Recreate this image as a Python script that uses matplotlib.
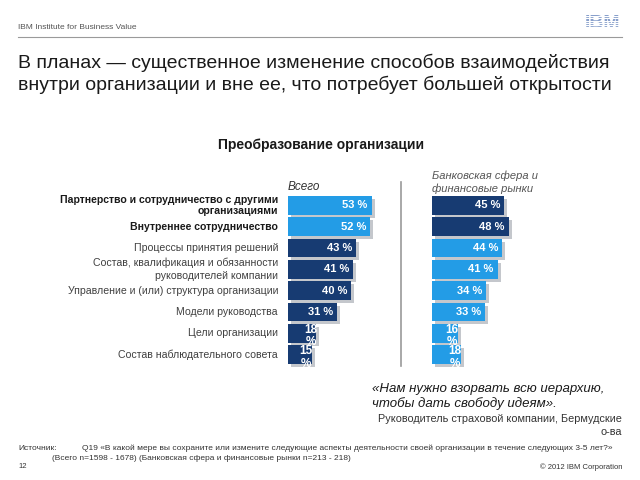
import numpy as np
import matplotlib
matplotlib.use("Agg")
import matplotlib.pyplot as plt

plt.rcParams['font.family'] = ['Liberation Sans', 'DejaVu Sans']

# data
categories = ["Партнерство и сотрудничество с другими\nорганизациями",
              "Внутреннее сотрудничество",
              "Процессы принятия решений",
              "Состав, квалификация и обязанности\nруководителей компании",
              "Управление и (или) структура организации",
              "Модели руководства",
              "Цели организации",
              "Состав наблюдательного совета"]
bold_rows = [0, 1]
total_vals = [53, 52, 43, 41, 40, 31, 18, 15]
bank_vals = [45, 48, 44, 41, 34, 33, 16, 18]
highlight = [True, True, False, False, False, False, False, False]

LIGHT = "#239CE6"
DARK = "#173B72"
SHADOW = "#C4C7CC"

W, H = 640, 480
fig = plt.figure(figsize=(6.4, 4.8), dpi=100)

def fx(px):
    return px / W

def fy(py):
    return 1 - py / H

def txt(x, y, s, **kw):
    fig.text(fx(x), fy(y), s, **kw)

# header
txt(18, 29, "IBM Institute for Business Value", fontsize=6, color="#555555", va="baseline")
fig.add_artist(plt.Line2D([fx(18), fx(622)], [fy(37), fy(37)], color="#9A9A9A", lw=0.8))
txt(602, 24, "IBM", fontsize=14, fontweight="bold", color="#7892C4", ha="center", va="center")
for k in range(8):
    yy = 16.2 + k * 2.2
    fig.add_artist(plt.Line2D([fx(580), fx(624)], [fy(yy), fy(yy)], color="white",
                              lw=0.9, zorder=10))

# title
txt(18, 68, "В планах — существенное изменение способов взаимодействия",
    fontsize=14, color="#1A1A1A", va="baseline")
txt(18, 90, "внутри организации и вне ее, что потребует большей открытости",
    fontsize=14, color="#1A1A1A", va="baseline")

txt(321, 145, "Преобразование организации", fontsize=10, fontweight="bold",
    color="#1A1A1A", ha="center", va="center")

# bar panels
top, bottom = 194.5, 365.5
n = len(categories)
rows = np.arange(n)
pitch = (bottom - top) / n


def panel(x0, vals, colors, px_per):
    width_px = 110
    ax = fig.add_axes([fx(x0), fy(bottom), fx(width_px), (bottom - top) / H])
    ax.set_xlim(0, width_px / px_per)
    ax.set_ylim(n - 0.5, -0.5)
    ax.axis("off")
    dx = 3 / px_per
    dy = 3 / pitch
    ax.barh(rows + dy, vals, left=dx, height=0.88, color=SHADOW, zorder=1, clip_on=False)
    ax.barh(rows, vals, height=0.88, color=colors, zorder=2, clip_on=False)
    for r, v in zip(rows, vals):
        if v < 20:
            ax.text(v - 6 / px_per, r + 0.12, f"{v}\n%", color="white", fontsize=8.5,
                    fontweight="bold", ha="center", va="center", multialignment="center",
                    linespacing=1.05, zorder=3, clip_on=False)
        else:
            ax.text(v - 4 / px_per, r, f"{v} %", color="white", fontsize=8,
                    fontweight="bold", ha="right", va="center", zorder=3)
    return ax


panel(288, total_vals, [LIGHT if h else DARK for h in highlight], 1.58)
panel(432, bank_vals, [DARK if h else LIGHT for h in highlight], 1.6)

# category labels
for r, c in zip(rows, categories):
    yc = top + (r + 0.5) * pitch
    txt(278, yc, c, fontsize=7.6, ha="right", va="center", multialignment="right",
        color="#1A1A1A" if r in bold_rows else "#404040",
        fontweight="bold" if r in bold_rows else "normal",
        linespacing=1.15 if r in bold_rows else 1.4)

txt(288, 187, "Всего", fontsize=8.5, style="italic", color="#333333", va="center")
txt(432, 176, "Банковская сфера и", fontsize=8, style="italic", color="#555555", va="center")
txt(432, 189, "финансовые рынки", fontsize=8, style="italic", color="#555555", va="center")

fig.add_artist(plt.Line2D([fx(401), fx(401)], [fy(182), fy(366)], color="#9A9A9A", lw=1.2))

# quote
txt(372, 389, "«Нам нужно взорвать всю иерархию,", fontsize=9.5, style="italic",
    color="#1A1A1A", va="center")
txt(372, 404, "чтобы дать свободу идеям».", fontsize=9.5, style="italic",
    color="#1A1A1A", va="center")
txt(622, 419, "Руководитель страховой компании, Бермудские", fontsize=7.8,
    color="#333333", ha="right", va="center")
txt(622, 432, "о-ва", fontsize=7.8, color="#333333", ha="right", va="center")

# footer
txt(18, 448, "Источник:", fontsize=6, color="#333333", va="center")
txt(82, 448, "Q19 «В какой мере вы сохраните или измените следующие аспекты деятельности "
    "своей организации в течение следующих 3-5 лет?»", fontsize=6, color="#333333", va="center")
txt(52, 458, "(Всего n=1598 - 1678) (Банковская сфера и финансовые рынки n=213 - 218)",
    fontsize=6, color="#333333", va="center")
txt(18, 467, "12", fontsize=5.5, color="#333333", va="center")
txt(622, 467, "© 2012 IBM Corporation", fontsize=5.5, color="#333333", ha="right", va="center")

fig.savefig("out.png", dpi=100)
